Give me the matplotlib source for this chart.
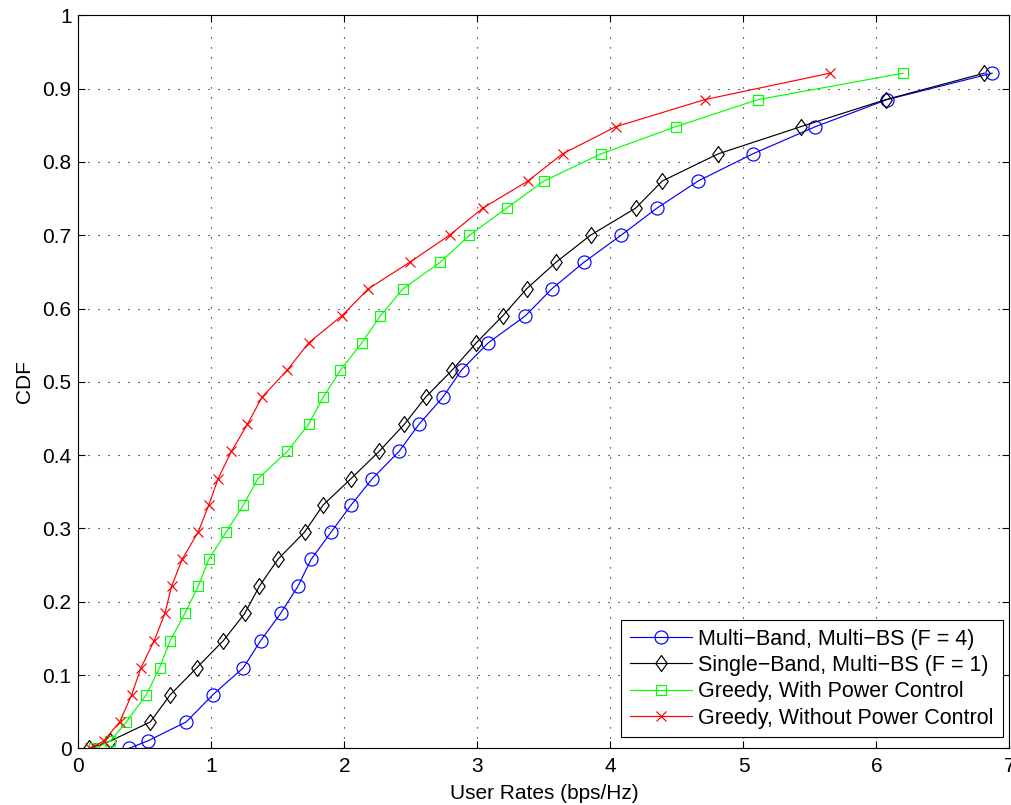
import matplotlib
matplotlib.use("Agg")
import matplotlib.pyplot as plt
from matplotlib.path import Path

plt.rcParams['font.family'] = ['Liberation Sans', 'DejaVu Sans']

# CDF levels shared by all curves
cdf = [0, 0.01, 0.036, 0.073, 0.110, 0.147, 0.184, 0.221, 0.258, 0.295,
       0.332, 0.368, 0.405, 0.442, 0.479, 0.516, 0.553, 0.590, 0.627, 0.663,
       0.700, 0.737, 0.774, 0.811, 0.848, 0.885, 0.921]

multi_band = [0.38, 0.52, 0.81, 1.01, 1.24, 1.37, 1.52, 1.65, 1.75, 1.90,
              2.05, 2.21, 2.41, 2.56, 2.74, 2.88, 3.08, 3.36, 3.56, 3.80,
              4.08, 4.35, 4.66, 5.07, 5.54, 6.08, 6.87]
single_band = [0.08, 0.24, 0.54, 0.69, 0.89, 1.09, 1.25, 1.36, 1.50, 1.70,
               1.84, 2.05, 2.26, 2.45, 2.61, 2.81, 2.99, 3.19, 3.37, 3.59,
               3.85, 4.19, 4.39, 4.81, 5.43, 6.07, 6.81]
greedy_pc = [0.12, 0.24, 0.36, 0.51, 0.61, 0.69, 0.80, 0.90, 0.98, 1.11,
             1.24, 1.35, 1.57, 1.73, 1.84, 1.97, 2.13, 2.27, 2.44, 2.72,
             2.94, 3.22, 3.50, 3.93, 4.49, 5.11, 6.20]
greedy_nopc = [0.09, 0.19, 0.31, 0.40, 0.47, 0.57, 0.65, 0.70, 0.78, 0.90,
               0.98, 1.05, 1.15, 1.27, 1.38, 1.57, 1.73, 1.98, 2.18, 2.49,
               2.79, 3.04, 3.38, 3.64, 4.04, 4.71, 5.65]

labels = ["Multi\u2212Band, Multi\u2212BS (F = 4)",
          "Single\u2212Band, Multi\u2212BS (F = 1)",
          "Greedy, With Power Control",
          "Greedy, Without Power Control"]

xticks = [0, 1, 2, 3, 4, 5, 6, 7]
yticks = [0, 0.1, 0.2, 0.3, 0.4, 0.5, 0.6, 0.7, 0.8, 0.9, 1]
yticklabels = ["0", "0.1", "0.2", "0.3", "0.4", "0.5", "0.6", "0.7", "0.8", "0.9", "1"]

# MATLAB-like tall diamond
diamond = Path([(0, 1), (0.72, 0), (0, -1), (-0.72, 0), (0, 1)],
               [Path.MOVETO, Path.LINETO, Path.LINETO, Path.LINETO, Path.CLOSEPOLY])

fig = plt.figure(figsize=(10.11, 8.05), dpi=100)
ax = fig.add_axes([0.0776, 0.0704, 0.9209, 0.9106])

lw = 0.85
ax.plot(multi_band, cdf, color=(0, 0, 1), lw=lw, marker='o', ms=9.4,
        mfc='none', mec=(0, 0, 1), mew=0.85, label=labels[0])
ax.plot(single_band, cdf, color='k', lw=lw, marker=diamond, ms=11.5,
        mfc='none', mec='k', mew=0.85, label=labels[1])
ax.plot(greedy_pc, cdf, color=(0, 1, 0), lw=lw, marker='s', ms=7.8,
        mfc='none', mec=(0, 1, 0), mew=0.85, label=labels[2])
ax.plot(greedy_nopc, cdf, color=(1, 0, 0), lw=lw, marker='x', ms=6.8,
        mfc='none', mec=(1, 0, 0), mew=0.85, label=labels[3])

ax.set_xlim(0, 7)
ax.set_ylim(0, 1)
ax.set_xticks(xticks)
ax.set_yticks(yticks)
ax.set_yticklabels(yticklabels)
ax.tick_params(direction='in', length=5, width=0.8, labelsize=15,
               top=True, right=True, colors='k')
ax.tick_params(axis='x', pad=6)
ax.tick_params(axis='y', pad=5)
for s in ax.spines.values():
    s.set_linewidth(0.8)

ax.grid(True, color='k', lw=0.8, linestyle=(0, (1, 8)))
ax.set_axisbelow(True)

ax.set_xlabel("User Rates (bps/Hz)", fontsize=15, labelpad=6)
ax.set_ylabel("CDF", fontsize=15, labelpad=6)

leg = ax.legend(loc='lower right', bbox_to_anchor=(0.9926, 0.015), fontsize=15.5,
                frameon=True, fancybox=False, framealpha=1, edgecolor='k',
                handlelength=2.9, handletextpad=0.3, labelspacing=0.25,
                borderpad=0.4, borderaxespad=0)
leg.get_frame().set_linewidth(0.8)

fig.savefig("out.png", dpi=100)
